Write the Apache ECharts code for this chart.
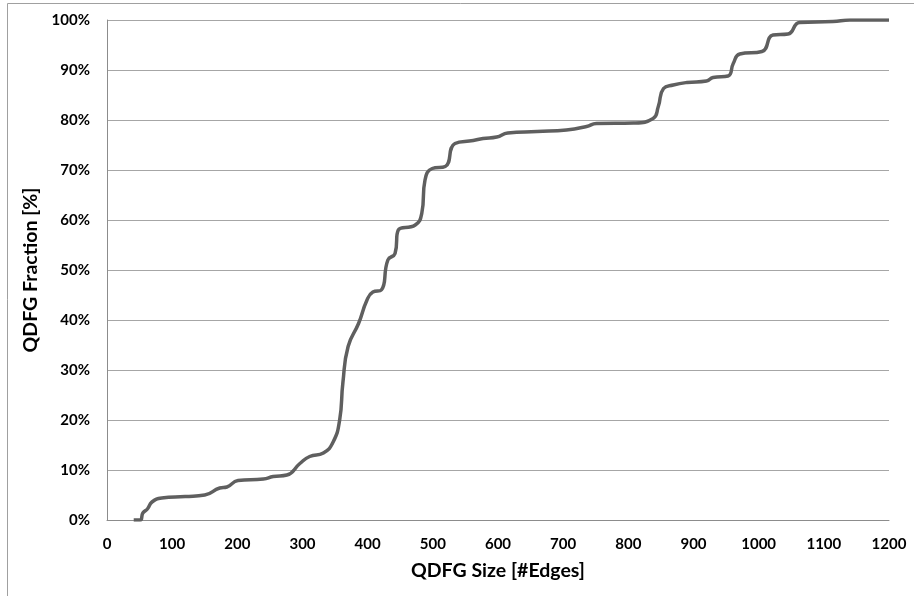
<!DOCTYPE html>
<html><head><meta charset="utf-8">
<script src="https://cdn.jsdelivr.net/npm/echarts@6/dist/echarts.min.js"></script>
<style>html,body{margin:0;padding:0;background:#fff}#c{width:914px;height:596px}</style>
</head><body><div id="c"></div>
<script>
const edges = [41,51,55,62,69,84,120,150,173,184,201,240,255,276,296,311,332,347,357,362,370,386,399,408,421,431,442,447,473,483,488,499,519,534,562,577,598,615,660,705,736,751,808,838,846,854,869,890,920,930,953,961,971,1005,1022,1045,1063,1114,1140,1200];
const fraction = [0,0,1.4,2.2,3.6,4.4,4.7,5.0,6.4,6.6,7.9,8.2,8.7,9.0,11.3,12.7,13.4,15.6,20,27.5,34.7,39.3,44,45.6,46,52,53.3,58,59,61.3,68,70.3,70.7,75.3,75.9,76.3,76.6,77.4,77.7,78,78.7,79.3,79.4,80.3,82.7,86.3,87,87.5,87.8,88.5,88.8,91.3,93.2,93.7,97,97.2,99.5,99.7,100,100];
const xTicks = [0,100,200,300,400,500,600,700,800,900,1000,1100,1200];
const yTicks = [0,10,20,30,40,50,60,70,80,90,100];

const chart = echarts.init(document.getElementById('c'));
const font = 'Lato, "Open Sans", sans-serif';
chart.setOption({
  animation: false,
  grid: {left: 107, right: 25, top: 20, bottom: 76},
  graphic: [
    {type: 'line', shape: {x1: 7.5, y1: 3.5, x2: 914, y2: 3.5}, style: {stroke: '#a0a0a0', lineWidth: 1}},
    {type: 'line', shape: {x1: 7.5, y1: 3.5, x2: 7.5, y2: 596}, style: {stroke: '#a0a0a0', lineWidth: 1}}
  ],
  xAxis: {
    type: 'value', min: xTicks[0], max: xTicks[xTicks.length-1], interval: 100,
    name: 'QDFG Size [#Edges]', nameLocation: 'middle', nameGap: 41,
    nameTextStyle: {fontFamily: font, fontWeight: 'bold', fontSize: 19.5, color: '#000'},
    axisLine: {lineStyle: {color: '#8c8c8c', width: 1}},
    axisTick: {show: false},
    splitLine: {show: false},
    axisLabel: {fontFamily: font, fontWeight: 'bold', fontSize: 15, color: '#000', margin: 17, formatter: v => String(v)}
  },
  yAxis: {
    type: 'value', min: yTicks[0], max: yTicks[yTicks.length-1], interval: 10,
    name: 'QDFG Fraction [%]', nameLocation: 'middle', nameGap: 62, nameRotate: 90,
    nameTextStyle: {fontFamily: font, fontWeight: 'bold', fontSize: 19.5, color: '#000'},
    axisLine: {show: true, lineStyle: {color: '#8c8c8c', width: 1}},
    axisTick: {show: false},
    splitLine: {lineStyle: {color: '#a6a6a6', width: 1}},
    axisLabel: {fontFamily: font, fontWeight: 'bold', fontSize: 15, color: '#000', margin: 17, formatter: v => v + '%'}
  },
  series: [{
    type: 'line',
    data: edges.map((e, i) => [e, fraction[i]]),
    showSymbol: false,
    smooth: 0.5,
    lineStyle: {color: '#5f5f5f', width: 3.5},
    itemStyle: {color: '#5f5f5f'}
  }]
});
</script></body></html>
